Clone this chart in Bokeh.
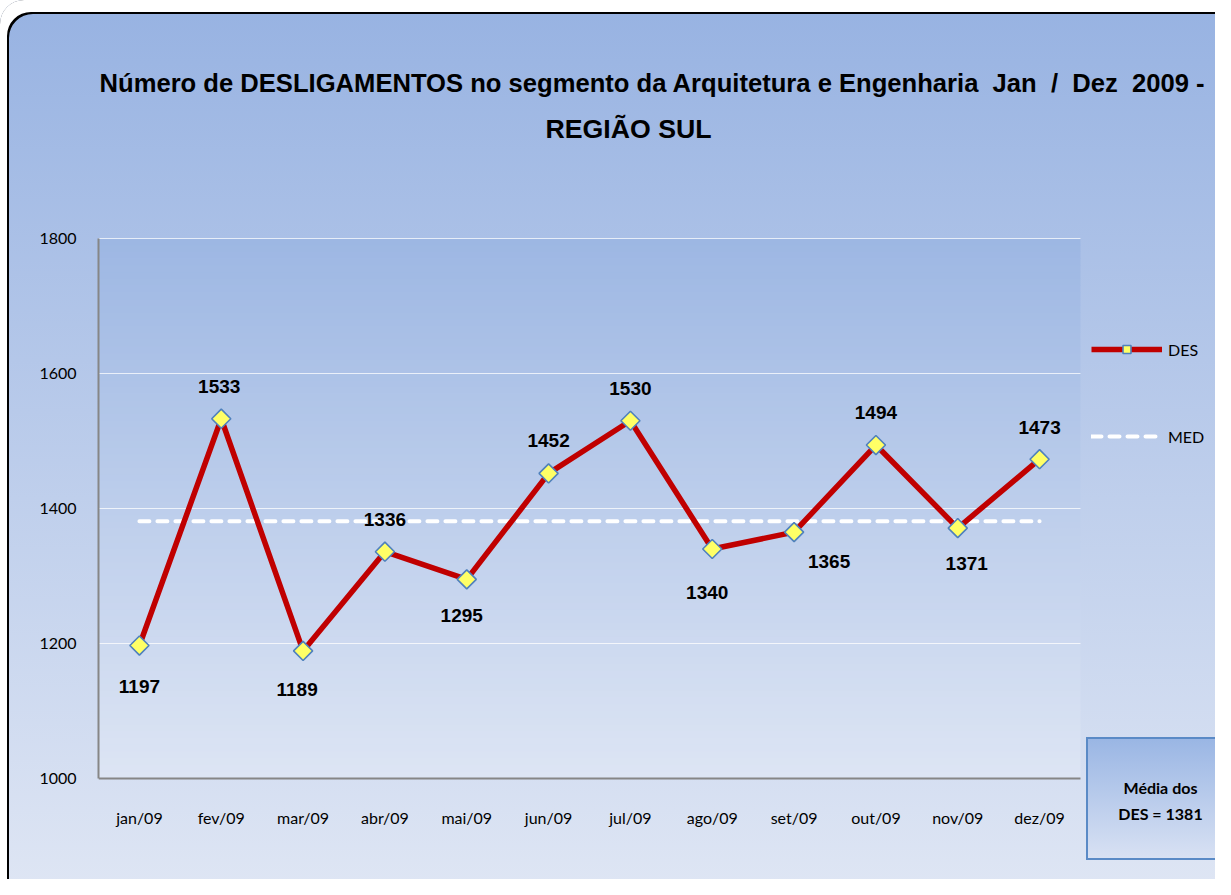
import numpy as np
from bokeh.plotting import figure
from bokeh.models import Range1d, FixedTicker, Legend, LegendItem, Label, ColumnDataSource
from bokeh.core.properties import value
from bokeh.embed import file_html
from bokeh.resources import INLINE

# ---------------- data ----------------
months = ["jan/09", "fev/09", "mar/09", "abr/09", "mai/09", "jun/09",
          "jul/09", "ago/09", "set/09", "out/09", "nov/09", "dez/09"]
des = [1197, 1533, 1189, 1336, 1295, 1452, 1530, 1340, 1365, 1494, 1371, 1473]
med_value = 1381
med = [med_value] * len(months)
y_ticks = [1000, 1200, 1400, 1600, 1800]
title_line1 = "Número de DESLIGAMENTOS no segmento da Arquitetura e Engenharia \u00a0Jan \u00a0/ \u00a0Dez \u00a02009 -"
title_line2 = "REGIÃO SUL"
legend_labels = ["DES", "MED"]
avg_lines = ["Média dos", "DES = %d" % med_value]

# label placement (screen px offsets, style only)
label_dx = [0, -2, -6, 0, -5, 0, 0, -5, 35, 0, 9, 0]
label_dy = [41, -32, 39, -32, 36, -33, -32, 43, 29, -33, 35, -32]

# ---------------- layout ----------------
W, H = 1215, 879
BB = 50                                 # x-axis panel (axis drawn at fixed location)
FB = H - BB                             # frame bottom in px
PL, PR, PT, PB = 98, 1080, 238, 778     # plot area in picture px
n_cat = len(months)
xa, xb = -0.5, n_cat - 0.5
ya, yb = y_ticks[0], y_ticks[-1]
u = (PR - PL) / (xb - xa)
v = (PB - PT) / (yb - ya)
x_end = xb + (W - PR) / u
y_end = yb + PT / v
y_start = ya - (FB - PB) / v

def dx(px):
    return xa + (px - PL) / u

def dy(py):
    return yb - (py - PT) / v

p = figure(width=W, height=H, output_backend="svg", toolbar_location=None,
           x_range=Range1d(xa, x_end), y_range=Range1d(y_start, y_end),
           min_border_left=PL, min_border_top=0, min_border_right=0, min_border_bottom=BB)
p.border_fill_color = None
p.background_fill_color = None
p.outline_line_color = None
p.styles = {
    "background": ("linear-gradient(180deg, #9ab6e4, #d8e1f3) 1088px 739px / 200px 119px no-repeat, "
                   "linear-gradient(#5a8ac6, #5a8ac6) 1086px 737px / 200px 123px no-repeat, "
                   "linear-gradient(180deg, #98b3e2 12px, #dfe6f4 897px)"),
    "border-radius": "24px 0 0 0",
    "box-shadow": "inset 7px 12px 0 0 #ffffff, inset 9px 14px 0 0 #000000",
}

def lerp(c1, c2, t):
    a = [int(c1[i:i + 2], 16) for i in (1, 3, 5)]
    b = [int(c2[i:i + 2], 16) for i in (1, 3, 5)]
    return "#%02x%02x%02x" % tuple(int(round(a[k] + (b[k] - a[k]) * t)) for k in range(3))

# plot-area gradient
n = 80
edges = np.linspace(ya, yb, n + 1)
cols = [lerp("#dde5f4", "#9db7e3", (i + 0.5) / n) for i in range(n)]
p.quad(left=xa, right=xb, bottom=edges[:-1], top=edges[1:] + 0.8,
       fill_color=cols, line_color=None, level="image")

# grid lines limited to the plot area
p.segment(x0=xa, x1=xb, y0=y_ticks[1:], y1=y_ticks[1:], line_color="#ffffff",
          line_alpha=0.75, line_width=1, level="underlay")
p.xgrid.grid_line_color = None
p.ygrid.grid_line_color = None

# axes
xs = list(range(n_cat))
p.xaxis.ticker = FixedTicker(ticks=xs)
p.xaxis.major_label_overrides = {i: m for i, m in enumerate(months)}
p.xaxis.fixed_location = ya
p.xaxis.bounds = (xa, xb)
p.yaxis.ticker = FixedTicker(ticks=y_ticks)
p.yaxis.bounds = (ya, yb)
for ax in (p.xaxis, p.yaxis):
    ax.axis_line_color = "#868686"
    ax.axis_line_width = 2
    ax.major_tick_line_color = None
    ax.minor_tick_line_color = None
    ax.major_tick_in = 0
    ax.major_tick_out = 0
    ax.major_label_text_font = "Lato"
    ax.major_label_text_font_size = "16px"
    ax.major_label_text_color = "#000000"
p.xaxis.major_label_standoff = 29
p.yaxis.major_label_standoff = 22

# series
src = ColumnDataSource(dict(x=xs, des=des, med=med, lab=[str(val) for val in des],
                            dx=label_dx, dy=label_dy))
r_med = p.line("x", "med", source=src, line_color="#ffffff", line_width=4,
               line_dash="10 8", line_cap="round")
r_line = p.line("x", "des", source=src, line_color="#c00000", line_width=5.5)
r_pts = p.scatter("x", "des", source=src, marker="square", angle=np.pi / 4, size=13.5,
                  fill_color="#ffff66", line_color="#4f81bd", line_width=1.6)
p.text("x", "des", text="lab", source=src, x_offset="dx", y_offset="dy",
       text_font=value("Liberation Sans"), text_font_style="bold",
       text_font_size="19px", text_color="#000000",
       text_align="center", text_baseline="middle")

# legend (inside the frame, right of the plot area)
legend = Legend(items=[LegendItem(label=legend_labels[0], renderers=[r_line, r_pts]),
                       LegendItem(label=legend_labels[1], renderers=[r_med])],
                location=(1091 - PL, FB - 446),
                glyph_width=71, glyph_height=20, label_height=20,
                spacing=67, padding=0, margin=0, label_standoff=6,
                label_text_font="Lato", label_text_font_size="16px",
                label_text_color="#000000",
                background_fill_alpha=0, border_line_color=None)
p.add_layout(legend)

# title
title_style = dict(text_font="Liberation Sans", text_font_style="bold",
                   text_color="#000000", text_baseline="middle")
p.add_layout(Label(x=dx(1205), y=dy(82), text=title_line1, text_align="right",
                   text_font_size="25.6px", **title_style))
p.add_layout(Label(x=dx(628), y=dy(128), text=title_line2, text_align="center",
                   text_font_size="26.7px", **title_style))

# average box text
for txt, py in ((avg_lines[0], 787), (avg_lines[1], 813)):
    p.add_layout(Label(x=dx(1160), y=dy(py), text=txt,
                       text_font="Lato", text_font_style="bold",
                       text_font_size="16px", text_color="#000000",
                       text_align="center", text_baseline="middle"))

open("out.html", "w").write(file_html(p, INLINE))
